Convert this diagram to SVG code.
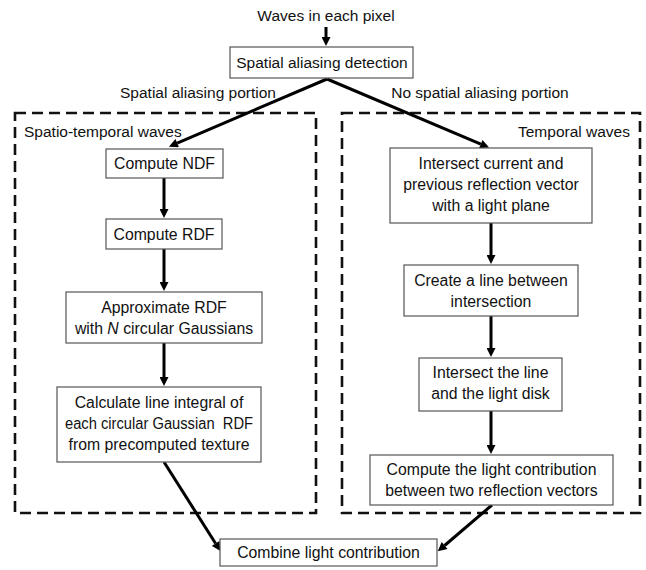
<svg xmlns="http://www.w3.org/2000/svg" width="646" height="570" viewBox="0 0 646 570">
<style>
text{font-family:"Liberation Sans",Arial,sans-serif;font-size:15.5px;fill:#111;text-anchor:middle}
.b text{font-size:15.8px}
.box{fill:#fff;stroke:#555;stroke-width:1.2}
.dash{fill:none;stroke:#111;stroke-width:2.6;stroke-dasharray:11 6}
.con{fill:none;stroke:#000;stroke-width:3;marker-end:url(#ah)}
</style>
<defs>
<marker id="ah" viewBox="0 0 10 10" refX="0" refY="5" markerWidth="10" markerHeight="9" markerUnits="userSpaceOnUse" orient="auto"><path d="M0,0 L10,5 L0,10 z" fill="#000"/></marker>
</defs>
<rect width="646" height="570" fill="#fff"/>
<g id="regions">
<rect class="dash" x="15" y="113" width="301" height="400"/>
<rect class="dash" x="342" y="113" width="298" height="400"/>
</g>
<g id="labels">
<text x="326" y="21">Waves in each pixel</text>
<text x="198" y="98">Spatial aliasing portion</text>
<text x="480" y="98">No spatial aliasing portion</text>
<text x="24" y="137" style="text-anchor:start">Spatio-temporal waves</text>
<text x="630" y="137" style="text-anchor:end">Temporal waves</text>
</g>
<g id="connectors">
<path class="con" d="M326,27 L326,37"/>
<path class="con" d="M327,79 L177.2,143.1"/>
<path class="con" d="M327,79 L480.8,144.1"/>
<path class="con" d="M164,178 L164,209"/>
<path class="con" d="M164,249 L164,282"/>
<path class="con" d="M164,343 L164,377"/>
<path class="con" d="M164,462 L215.6,543.5"/>
<path class="con" d="M491,223 L491,255"/>
<path class="con" d="M491,316 L491,348"/>
<path class="con" d="M491,411 L491,445"/>
<path class="con" d="M492,505 L444.6,545.5"/>
</g>
<g id="detect">
<rect class="box" x="230" y="47" width="183" height="31"/>
<text x="322" y="68">Spatial aliasing detection</text>
</g>
<g id="ndf" class="b">
<rect class="box" x="106" y="149" width="117" height="29"/>
<text x="164.5" y="169">Compute NDF</text>
</g>
<g id="rdf" class="b">
<rect class="box" x="106" y="219" width="116" height="30"/>
<text x="164" y="240">Compute RDF</text>
</g>
<g id="approx" class="b">
<rect class="box" x="66" y="292" width="196" height="51"/>
<text x="164" y="313">Approximate RDF</text>
<text x="164" y="334">with <tspan font-style="italic">N</tspan> circular Gaussians</text>
</g>
<g id="calc" class="b">
<rect class="box" x="57" y="387" width="204" height="75"/>
<text x="159" y="408">Calculate line integral of</text>
<text x="159" y="429" style="white-space:pre" textLength="188" lengthAdjust="spacingAndGlyphs">each circular Gaussian  RDF</text>
<text x="159" y="450">from precomputed texture</text>
</g>
<g id="isect" class="b">
<rect class="box" x="390" y="148" width="202" height="75"/>
<text x="491" y="169">Intersect current and</text>
<text x="491" y="190">previous reflection vector</text>
<text x="491" y="211">with a light plane</text>
</g>
<g id="line" class="b">
<rect class="box" x="404" y="265" width="174" height="51"/>
<text x="491" y="286">Create a line between</text>
<text x="491" y="307">intersection</text>
</g>
<g id="disk" class="b">
<rect class="box" x="419" y="358" width="143" height="53"/>
<text x="490.5" y="378">Intersect the line</text>
<text x="490.5" y="399">and the light disk</text>
</g>
<g id="contrib" class="b">
<rect class="box" x="370" y="455" width="243" height="50"/>
<text x="491.5" y="475">Compute the light contribution</text>
<text x="491.5" y="496">between two reflection vectors</text>
</g>
<g id="combine" class="b">
<rect class="box" x="220" y="539" width="217" height="27"/>
<text x="328.5" y="558">Combine light contribution</text>
</g>
</svg>
